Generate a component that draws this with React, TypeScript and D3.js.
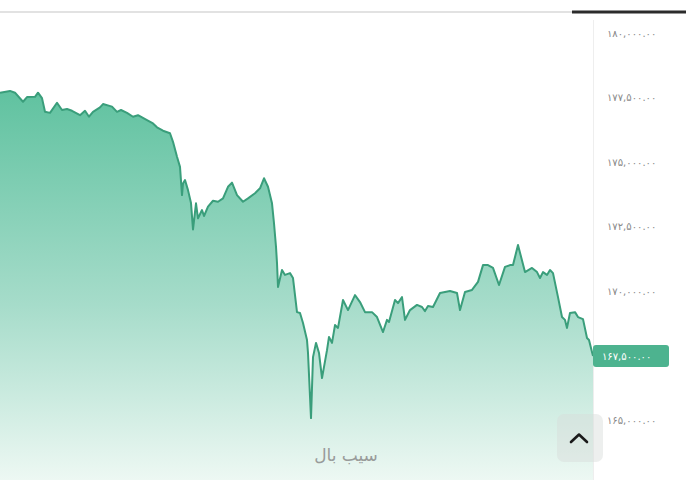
import { useEffect, useRef } from "react";
import * as d3 from "d3";

// minutes since open and price
const minutes = [
  0, 10, 15, 23, 27, 35, 38, 42, 45, 50, 57, 62, 67, 72, 80, 85, 89, 93, 100, 103,
  112, 117, 121, 127, 133, 138, 147, 153, 157, 163, 170, 173, 177, 180, 182, 183, 185, 188, 191, 193,
  196, 198, 202, 204, 208, 213, 218, 223, 228, 232, 237, 243, 248, 255, 260, 264, 268, 272, 274, 276,
  277, 278, 282, 285, 290, 293, 297, 300, 303, 307, 308, 311, 313, 316, 319, 322, 327, 329, 332, 335,
  338, 343, 348, 355, 360, 365, 372, 377, 383, 387, 389, 395, 398, 402, 405, 410, 417, 422, 425, 428,
  433, 440, 445, 450, 457, 460, 465, 472, 478, 483, 488, 493, 499, 505, 510, 513, 518, 525, 532, 537,
  540, 543, 547, 550, 553, 558, 562, 565, 567, 570, 575, 578, 583, 587, 589, 593,
];
const prices = [
  177690, 177760, 177690, 177340, 177520, 177530, 177690, 177480, 176950, 176910, 177300, 177020, 177060, 176990, 176820, 176990, 176760, 176950, 177120, 177250,
  177150, 176950, 177020, 176910, 176760, 176820, 176630, 176500, 176350, 176220, 176120, 175790, 175210, 174820, 173730, 174180, 174310, 173920, 173420, 172400,
  173410, 172830, 173150, 172920, 173280, 173510, 173470, 173600, 174050, 174210, 173730, 173470, 173600, 173800, 173990, 174380, 174050, 173410, 172640, 171730,
  171100, 170170, 170830, 170640, 170710, 170520, 169200, 169170, 168780, 168120, 167620, 165100, 167460, 168010, 167620, 166650, 167730, 168240, 168010, 168700,
  168590, 169670, 169280, 169860, 169590, 169200, 169200, 169010, 168430, 168900, 168820, 169670, 169550, 169780, 168900, 169280, 169480, 169400, 169240, 169440,
  169400, 169940, 169980, 170020, 169940, 169280, 169980, 170060, 170370, 171020, 171020, 170910, 170250, 170950, 171020, 171020, 171800, 170750, 170910, 170750,
  170520, 170750, 170640, 170830, 170710, 169780, 169010, 168900, 168590, 169170, 169200, 169010, 168930, 168200, 168120, 167500,
];
const priceTicks = [165000, 167500, 170000, 172500, 175000, 177500, 180000];
const lastPrice = 167500;
const watermark = "سیب بال";

const W = 689;
const H = 480;

const faDigits = "۰۱۲۳۴۵۶۷۸۹";
const toFa = (s: string) => s.replace(/\d/g, (d) => faDigits[+d]);
const fmt = (v: number) => toFa(d3.format(",.2f")(v));

export default function App() {
  const svgRef = useRef<SVGSVGElement | null>(null);

  useEffect(() => {
    document.body.style.margin = "0";
    const el = svgRef.current;
    if (!el) return;
    const svg = d3.select(el);
    svg.selectAll("*").remove();

    const plotRight = 593;
    const x = d3.scaleLinear().domain([0, 593]).range([0, plotRight]);
    const y = d3.scaleLinear().domain([165000, 180000]).range([420.7, 33]);

    const data = minutes.map((m, i) => ({ m, p: prices[i] }));

    const defs = svg.append("defs");
    const grad = defs.append("linearGradient")
      .attr("id", "fillGrad")
      .attr("x1", 0).attr("x2", 0)
      .attr("y1", 0).attr("y2", 1);
    grad.append("stop").attr("offset", "0%").attr("stop-color", "#60c2a0");
    grad.append("stop").attr("offset", "55%").attr("stop-color", "#a6dcca");
    grad.append("stop").attr("offset", "100%").attr("stop-color", "#edf8f3");

    defs.append("clipPath").attr("id", "topClip")
      .append("rect").attr("x", 0).attr("y", 31).attr("width", W).attr("height", H);

    svg.append("rect").attr("width", W).attr("height", H).attr("fill", "#ffffff");

    // top tab line
    svg.append("line")
      .attr("x1", 0).attr("x2", 572).attr("y1", 12).attr("y2", 12)
      .attr("stroke", "#d9d9d9").attr("stroke-width", 1.5);
    svg.append("line")
      .attr("x1", 572).attr("x2", 686).attr("y1", 12).attr("y2", 12)
      .attr("stroke", "#2b2b2b").attr("stroke-width", 3);

    const area = d3.area<{ m: number; p: number }>()
      .x((d) => x(d.m))
      .y0(H)
      .y1((d) => y(d.p));
    const line = d3.line<{ m: number; p: number }>()
      .x((d) => x(d.m))
      .y((d) => y(d.p));

    svg.append("path")
      .datum(data)
      .attr("d", area)
      .attr("fill", "url(#fillGrad)");
    svg.append("path")
      .datum(data)
      .attr("d", line)
      .attr("fill", "none")
      .attr("stroke", "#3a9e7b")
      .attr("stroke-width", 2)
      .attr("stroke-linejoin", "round");

    // right axis separator
    svg.append("line")
      .attr("x1", plotRight + 0.5).attr("x2", plotRight + 0.5)
      .attr("y1", 20).attr("y2", H)
      .attr("stroke", "#eeeeee");

    const axis = svg.append("g").attr("clip-path", "url(#topClip)");
    axis.selectAll("text.tick")
      .data(priceTicks.filter((t) => t !== lastPrice))
      .join("text")
      .attr("class", "tick")
      .attr("x", 607)
      .attr("y", (d) => y(d))
      .attr("dy", "0.35em")
      .attr("font-family", "DejaVu Sans, sans-serif")
      .attr("font-size", 10)
      .attr("fill", "#8a8a8a")
      .attr("letter-spacing", 1.1)
      .text((d) => fmt(d));

    // current price badge
    const by = y(lastPrice);
    const badge = svg.append("g");
    badge.append("rect")
      .attr("x", 593).attr("y", by - 11)
      .attr("width", 76).attr("height", 22)
      .attr("rx", 3)
      .attr("fill", "#4db38f");
    badge.append("text")
      .attr("x", 602).attr("y", by)
      .attr("dy", "0.35em")
      .attr("font-family", "DejaVu Sans, sans-serif")
      .attr("font-size", 10)
      .attr("fill", "#ffffff")
      .attr("letter-spacing", 1.1)
      .text(fmt(lastPrice));

    // scroll button
    svg.append("rect")
      .attr("x", 557).attr("y", 414)
      .attr("width", 46).attr("height", 48)
      .attr("rx", 7)
      .attr("fill", "#d6dcda").attr("fill-opacity", 0.45);
    svg.append("path")
      .attr("d", "M571,442 L579,434.5 L587,442")
      .attr("fill", "none")
      .attr("stroke", "#1a1a1a")
      .attr("stroke-width", 2.6)
      .attr("stroke-linecap", "round")
      .attr("stroke-linejoin", "round");

    // watermark
    svg.append("text")
      .attr("x", 346).attr("y", 461)
      .attr("text-anchor", "middle")
      .attr("font-family", "DejaVu Sans, sans-serif")
      .attr("font-size", 17)
      .attr("fill", "#8c8c8c")
      .attr("opacity", 0.85)
      .text(watermark);
  }, []);

  return <svg ref={svgRef} width={W} height={H} style={{ display: "block" }} />;
}
